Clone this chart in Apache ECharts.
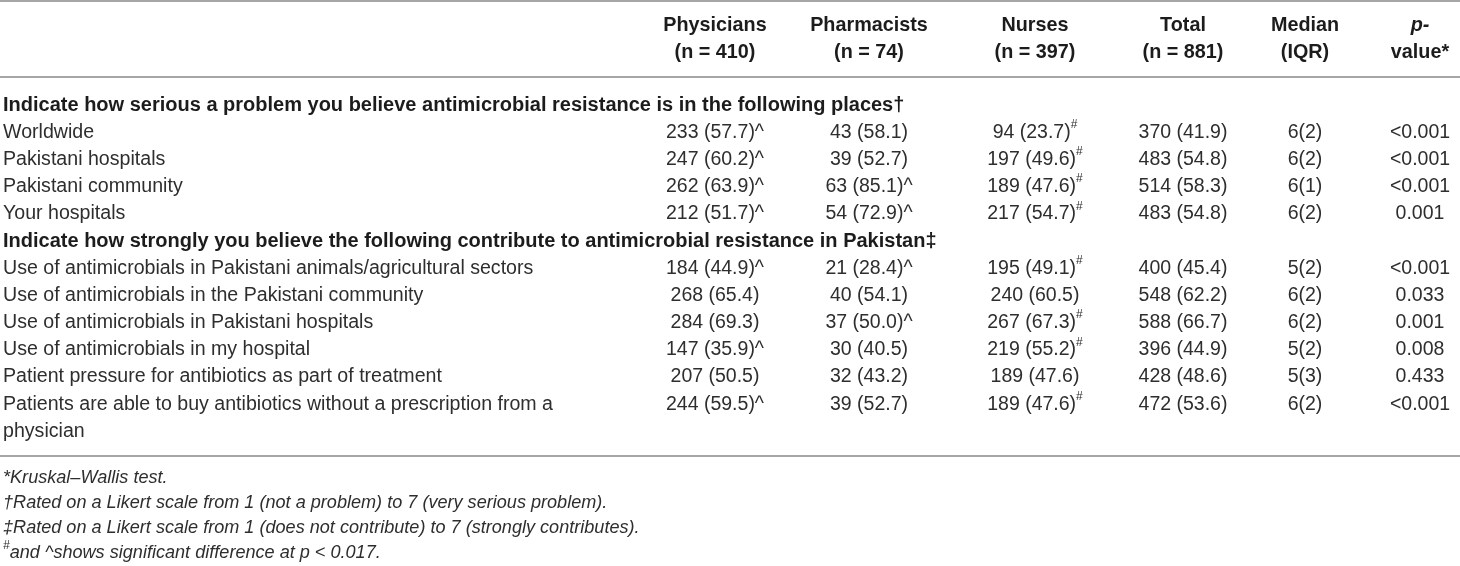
<!DOCTYPE html>
<html>
<head>
<meta charset="utf-8">
<title>AMR perceptions table</title>
<script src="https://cdn.jsdelivr.net/npm/echarts@6/dist/echarts.min.js"></script>
<style>
html, body { margin: 0; padding: 0; background: #fff; }
#main { width: 1460px; height: 566px; }
</style>
</head>
<body>
<div id="main"></div>
<script>
// ---- table data ----
var colHeads = ['Physicians', 'Pharmacists', 'Nurses', 'Total', 'Median', 'p-'];
var colSubs = ['(n = 410)', '(n = 74)', '(n = 397)', '(n = 881)', '(IQR)', 'value*'];

var sectionTitles = [
    'Indicate how serious a problem you believe antimicrobial resistance is in the following places\u2020',
    'Indicate how strongly you believe the following contribute to antimicrobial resistance in Pakistan\u2021'
];
var items1 = ['Worldwide', 'Pakistani hospitals', 'Pakistani community', 'Your hospitals'];
var items2 = [
    'Use of antimicrobials in Pakistani animals/agricultural sectors',
    'Use of antimicrobials in the Pakistani community',
    'Use of antimicrobials in Pakistani hospitals',
    'Use of antimicrobials in my hospital',
    'Patient pressure for antibiotics as part of treatment',
    'Patients are able to buy antibiotics without a prescription from a\nphysician'
];

var physN = [233, 247, 262, 212, 184, 268, 284, 147, 207, 244];
var physPct = [57.7, 60.2, 63.9, 51.7, 44.9, 65.4, 69.3, 35.9, 50.5, 59.5];
var physSig = [1, 1, 1, 1, 1, 0, 0, 1, 0, 1];      // ^
var pharmN = [43, 39, 63, 54, 21, 40, 37, 30, 32, 39];
var pharmPct = [58.1, 52.7, 85.1, 72.9, 28.4, 54.1, 50.0, 40.5, 43.2, 52.7];
var pharmSig = [0, 0, 1, 1, 1, 0, 1, 0, 0, 0];     // ^
var nurseN = [94, 197, 189, 217, 195, 240, 267, 219, 189, 189];
var nursePct = [23.7, 49.6, 47.6, 54.7, 49.1, 60.5, 67.3, 55.2, 47.6, 47.6];
var nurseSig = [1, 1, 1, 1, 1, 0, 1, 1, 0, 1];     // #
var totalN = [370, 483, 514, 483, 400, 548, 588, 396, 428, 472];
var totalPct = [41.9, 54.8, 58.3, 54.8, 45.4, 62.2, 66.7, 44.9, 48.6, 53.6];
var medians = [6, 6, 6, 6, 5, 6, 6, 5, 5, 6];
var iqrs = [2, 2, 1, 2, 2, 2, 2, 2, 3, 2];
var pValues = ['<0.001', '<0.001', '<0.001', '0.001', '<0.001', '0.033', '0.001', '0.008', '0.433', '<0.001'];

var footnotes = [
    '*Kruskal\u2013Wallis test.',
    '\u2020Rated on a Likert scale from 1 (not a problem) to 7 (very serious problem).',
    '\u2021Rated on a Likert scale from 1 (does not contribute) to 7 (strongly contributes).',
    '{sup|#}and ^shows significant difference at p < 0.017.'
];

// ---- layout (axis units = pixels of the picture) ----
var colX = [3, 715, 869, 1035, 1183, 1305, 1420];
var headY = [26, 53];
var bodyTop = 105, step = 27.2;
var footTop = 478, footStep = 25;
var rules = [1, 77, 456];
var FONT = "'Liberation Sans', Arial, Helvetica, sans-serif";

function cnt(n, p, mark) {
    var s = n + ' (' + p.toFixed(1) + ')';
    if (mark === '#') s += '{sup|#}';
    else if (mark) s += mark;
    return s;
}

var cells = [];
function add(x, y, text, o) {
    o = o || {};
    cells.push({ x: x, y: y, text: text, align: o.align || 'center',
        bold: !!o.bold, italic: !!o.italic, size: o.size || 19.5,
        color: o.color || '#2e2e2e' });
}

// header
colHeads.forEach(function (h, i) {
    add(colX[i + 1], headY[0], h, { bold: true, italic: i === 5, color: '#1c1c1c', size: 19.8 });
    add(colX[i + 1], headY[1], colSubs[i], { bold: true, color: '#1c1c1c', size: 19.8 });
});

// body
var labels = [];
labels.push({ t: sectionTitles[0], sec: true });
items1.forEach(function (t) { labels.push({ t: t }); });
labels.push({ t: sectionTitles[1], sec: true });
items2.forEach(function (t) { labels.push({ t: t }); });

var k = 0, line = 0;
labels.forEach(function (lb) {
    var y = bodyTop + step * line;
    var nl = lb.t.split('\n').length;
    add(colX[0], y + (nl - 1) * step / 2, lb.t, {
        align: 'left', bold: lb.sec, size: lb.sec ? 20 : 19.6,
        color: lb.sec ? '#1c1c1c' : '#2e2e2e'
    });
    if (!lb.sec) {
        add(colX[1], y, cnt(physN[k], physPct[k], physSig[k] ? '^' : ''));
        add(colX[2], y, cnt(pharmN[k], pharmPct[k], pharmSig[k] ? '^' : ''));
        add(colX[3], y, cnt(nurseN[k], nursePct[k], nurseSig[k] ? '#' : ''));
        add(colX[4], y, cnt(totalN[k], totalPct[k], ''));
        add(colX[5], y, medians[k] + '(' + iqrs[k] + ')');
        add(colX[6], y, pValues[k]);
        k++;
    }
    line += nl;
});

footnotes.forEach(function (f, i) {
    add(colX[0], footTop + footStep * i, f, { align: 'left', italic: true, size: 18.1 });
});

var chart = echarts.init(document.getElementById('main'));
chart.setOption({
    backgroundColor: '#fff',
    animation: false,
    grid: { left: 0, right: 0, top: 0, bottom: 0 },
    xAxis: { type: 'value', min: 0, max: 1460, show: false },
    yAxis: { type: 'value', min: 0, max: 566, inverse: true, show: false },
    series: [
        {
            type: 'custom',
            silent: true,
            data: rules.map(function (y) { return [0, y]; }),
            renderItem: function (params, api) {
                var a = api.coord([0, api.value(1)]);
                var b = api.coord([1460, api.value(1)]);
                return {
                    type: 'line',
                    shape: { x1: a[0], y1: a[1], x2: b[0], y2: b[1] },
                    style: { stroke: '#a6a6a6', lineWidth: 2 }
                };
            }
        },
        {
            type: 'custom',
            silent: true,
            data: cells.map(function (c) { return [c.x, c.y]; }),
            renderItem: function (params, api) {
                var c = cells[params.dataIndex];
                var p = api.coord([api.value(0), api.value(1)]);
                return {
                    type: 'text',
                    x: p[0],
                    y: p[1],
                    style: {
                        text: c.text,
                        align: c.align,
                        verticalAlign: 'middle',
                        fontFamily: FONT,
                        fontSize: c.size,
                        fontWeight: c.bold ? 'bold' : 'normal',
                        fontStyle: c.italic ? 'italic' : 'normal',
                        lineHeight: step,
                        fill: c.color,
                        rich: {
                            sup: {
                                fontFamily: FONT,
                                fontSize: 12,
                                fontStyle: c.italic ? 'italic' : 'normal',
                                verticalAlign: 'top',
                                lineHeight: 14,
                                fill: c.color
                            }
                        }
                    }
                };
            }
        }
    ]
});
window.onresize = function () {
    chart.resize();
};
</script>
</body>
</html>
